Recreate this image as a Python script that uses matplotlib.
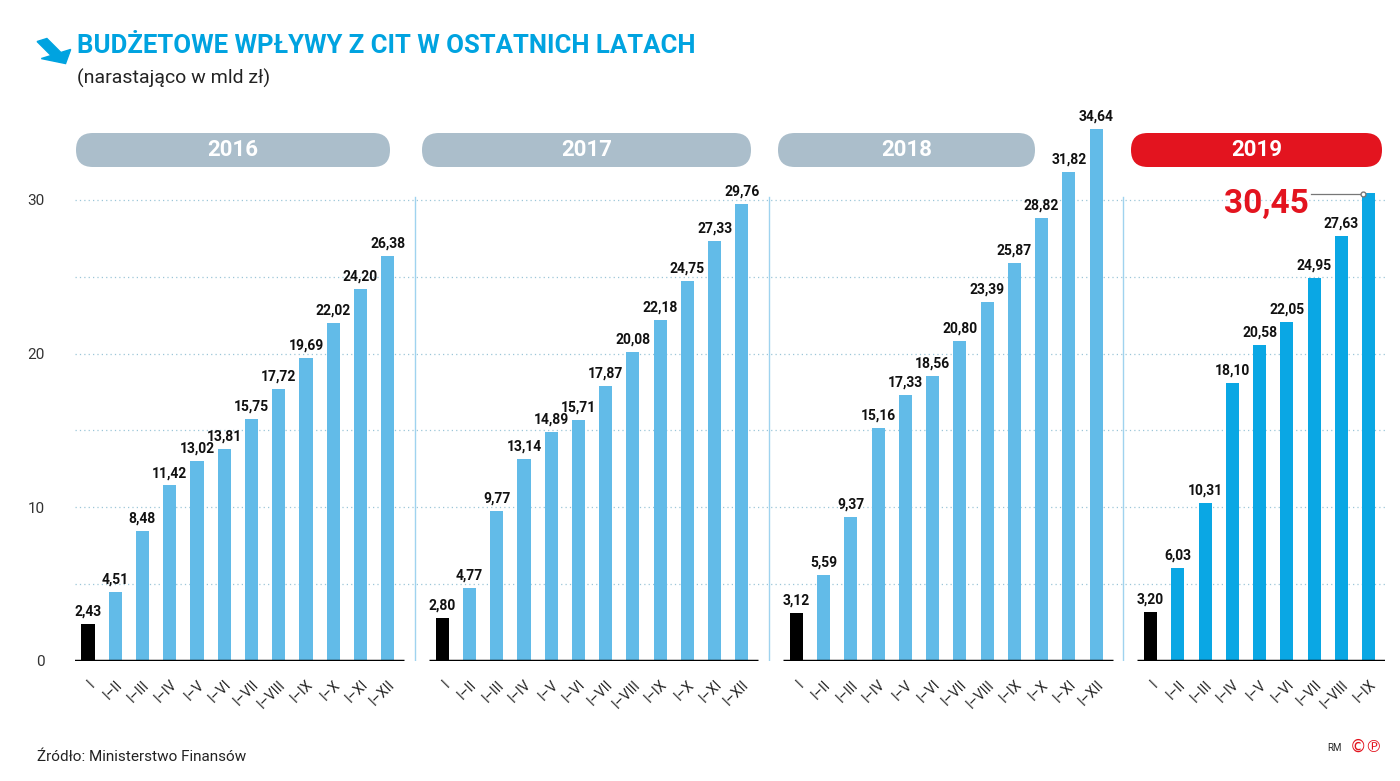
import matplotlib
matplotlib.use('Agg')
import matplotlib.pyplot as plt
from matplotlib.patches import FancyBboxPatch, FancyArrow

matplotlib.rcParams['font.family'] = 'Roboto'

years = ['2016', '2017', '2018', '2019']
months = ['I', 'I–II', 'I–III', 'I–IV', 'I–V', 'I–VI', 'I–VII', 'I–VIII', 'I–IX', 'I–X', 'I–XI', 'I–XII']
values = {
    '2016': [2.43, 4.51, 8.48, 11.42, 13.02, 13.81, 15.75, 17.72, 19.69, 22.02, 24.20, 26.38],
    '2017': [2.80, 4.77, 9.77, 13.14, 14.89, 15.71, 17.87, 20.08, 22.18, 24.75, 27.33, 29.76],
    '2018': [3.12, 5.59, 9.37, 15.16, 17.33, 18.56, 20.80, 23.39, 25.87, 28.82, 31.82, 34.64],
    '2019': [3.20, 6.03, 10.31, 18.10, 20.58, 22.05, 24.95, 27.63, 30.45],
}

W, H = 1400, 781
fig = plt.figure(figsize=(14, 7.81), dpi=100)
ax = fig.add_axes([75 / W, 1 - 661 / H, 1310 / W, 537.9 / H])
ax.set_xlim(-0.477, 47.6)
ax.set_ylim(0, 35)

blue = '#62bbe8'
blue19 = '#0aa7e4'
xt, xl = [], []
for k, y in enumerate(years):
    vals = values[y]
    xs = [k * 13 + i for i in range(len(vals))]
    cols = ['black'] + [blue19 if y == '2019' else blue] * (len(vals) - 1)
    ax.bar(xs, vals, width=0.48, color=cols, zorder=3)
    for x, v in zip(xs, vals):
        if y == '2019' and x == xs[-1]:
            continue
        ax.text(x, v + 0.35, f'{v:.2f}'.replace('.', ','), ha='center', va='bottom',
                fontsize=10, fontweight='bold', color='#111111')
    ax.plot([xs[0] - 0.5, xs[0] + 11.6], [0, 0], color='black', lw=2.5, zorder=4,
            solid_capstyle='butt')
    if k > 0:
        ax.plot([k * 13 - 1, k * 13 - 1], [0, 30.2], color='#9fd3ef', lw=1, zorder=2)
    xt += xs
    xl += months[:len(vals)]

# 2019 highlight
last = values['2019'][-1]
lx = 3 * 13 + 8
ax.plot([lx - 2.1, lx - 0.2], [last - 0.05, last - 0.05], color='#777777', lw=0.9, zorder=5)
ax.plot([lx - 0.2], [last - 0.05], 'o', ms=3.5, mfc='white', mec='#777777', zorder=6)
ax.text(lx - 2.2, last - 0.7, f'{last:.2f}'.replace('.', ','), ha='right', va='center',
        fontsize=24, fontweight='bold', color='#e3141f')

for g in [5, 10, 15, 20, 25, 30]:
    ax.axhline(g, color='#9cc6d8', lw=0.9, ls=(0, (1, 2.5)), zorder=1)

ax.set_yticks([0, 10, 20, 30])
ax.set_xticks(xt)
ax.set_xticklabels(xl, rotation=45, ha='right', rotation_mode='anchor', fontsize=10, color='#222222')
ax.tick_params(axis='x', length=0, pad=12)
ax.tick_params(axis='y', length=0, pad=22, labelsize=11, labelcolor='#333333')
for s in ax.spines.values():
    s.set_visible(False)

# year pills
pills = [(76, 390, '#abbecb'), (422, 751, '#abbecb'), (778, 1035, '#abbecb'), (1131, 1382, '#e3141f')]
for (x0, x1, c), y in zip(pills, years):
    fig.patches.append(FancyBboxPatch((x0 / W, 1 - 167 / H), (x1 - x0) / W, 34 / H,
                                      boxstyle='round,pad=0,rounding_size=0.012', fc=c, ec='none',
                                      transform=fig.transFigure, mutation_aspect=W / H))
    fig.text((x0 + x1) / 2 / W, 1 - 150 / H, y, ha='center', va='center', fontsize=16,
             fontweight='bold', color='white')

# title
fig.patches.append(FancyArrow(42 / W, 1 - 40 / H, 14 / W, -14 / H, width=0.008, head_width=0.024,
                              head_length=0.014, color='#00a3e0', transform=fig.transFigure))
fig.text(77 / W, 1 - 46 / H, 'BUDŻETOWE WPŁYWY Z CIT W OSTATNICH LATACH', fontsize=18.5,
         fontweight='bold', color='#00a3e0', va='center')
fig.text(77 / W, 1 - 78 / H, '(narastająco w mld zł)', fontsize=14, color='#222222', va='center')
fig.text(37 / W, 1 - 757 / H, 'Źródło: Ministerstwo Finansów', fontsize=11, color='#222222', va='center')
fig.text(1327 / W, 1 - 748 / H, 'RM', fontsize=7, color='#222222', va='center')
fig.text(1350 / W, 1 - 747 / H, '©℗', fontsize=12, color='#e3141f', va='center', family='DejaVu Sans')

fig.savefig('out.png', dpi=100)
